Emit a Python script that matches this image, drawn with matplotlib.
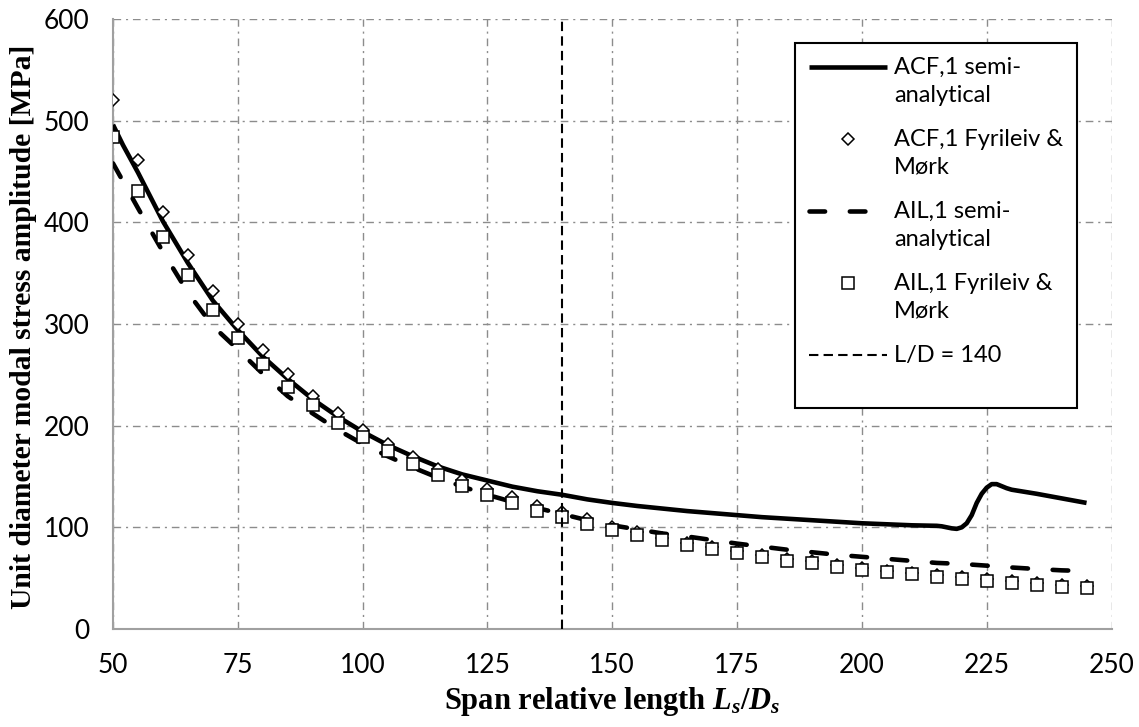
import matplotlib
matplotlib.use("Agg")
import matplotlib.pyplot as plt
from matplotlib.legend_handler import HandlerLine2D
from matplotlib.transforms import Affine2D

plt.rcParams['font.family'] = ['Lato', 'DejaVu Sans']
plt.rcParams['mathtext.fontset'] = 'custom'
plt.rcParams['mathtext.rm'] = 'Liberation Serif:bold'
plt.rcParams['mathtext.it'] = 'Liberation Serif:italic:bold'
plt.rcParams['mathtext.bf'] = 'Liberation Serif:bold'

# values
fm_x = [50, 55, 60, 65, 70, 75, 80, 85, 90, 95, 100, 105, 110, 115, 120, 125, 130, 135, 140, 145,
        150, 155, 160, 165, 170, 175, 180, 185, 190, 195, 200, 205, 210, 215, 220, 225, 230, 235, 240, 245]
acf_fm = [520, 461, 410, 368, 332, 300, 274, 251, 229, 212, 196, 182, 169, 157, 147, 138, 130, 121, 115, 108,
          100, 95, 90, 85, 80.5, 76.5, 73, 69, 66.5, 63, 60, 57.5, 55.5, 53, 51, 49, 47, 45, 43.5, 42]
ail_fm = [484, 431, 386, 348, 314, 286, 261, 238, 220, 203, 189, 175, 162, 151, 141, 132, 124, 116, 110, 103,
          97, 92.5, 87.5, 83, 78.5, 74.5, 71, 67, 64.5, 61, 58, 55.7, 53.7, 51.5, 49, 47, 45, 43, 41.6, 40]

acf_semi_x = [50, 52, 55, 60, 65, 70, 75, 80, 85, 90, 95, 100, 105, 110, 115, 120, 125, 130, 135, 140, 145,
              150, 155, 160, 165, 170, 175, 180, 185, 190, 195, 200, 205, 210, 215, 216, 217, 218, 219,
              220, 221, 222, 223, 224, 225, 226, 227, 228, 229, 230, 235, 240, 245]
acf_semi = [496, 476, 449, 401, 360, 323, 294, 268, 246, 226, 209, 194, 181, 170, 160, 152, 146, 140, 135.5, 132, 127.5,
            124, 121, 118.5, 116, 114, 112, 110, 108.5, 107, 105.5, 104, 103, 102, 101.5, 101, 100, 99, 98.5,
            100, 104, 112, 124, 133, 139, 142.5, 142.5, 140.5, 138.5, 137, 133, 128.5, 124]

ail_semi_x = fm_x
ail_semi = [458, 414, 371, 331, 298, 275, 251, 229, 212, 196, 182, 170, 159, 149, 140, 132, 125, 119, 113, 107,
            102, 98, 94, 91, 87.5, 84, 81, 78, 75.5, 73, 71, 69, 67, 65, 64, 62.3, 60.5, 59, 57.7, 57]

ld_limit = 140

labels = ["ACF,1 semi-\nanalytical", "ACF,1 Fyrileiv &\nMørk", "AIL,1 semi-\nanalytical",
          "AIL,1 Fyrileiv &\nMørk", "L/D = 140\n "]


class FirstLineHandler(HandlerLine2D):
    # put the legend key next to the first text line, like Excel
    def __init__(self, dy, **kw):
        super().__init__(**kw)
        self.dy = dy

    def create_artists(self, legend, orig_handle, xdescent, ydescent, width, height, fontsize, trans):
        trans = Affine2D().translate(0, self.dy) + trans
        return super().create_artists(legend, orig_handle, xdescent, ydescent, width, height, fontsize, trans)


fig = plt.figure(figsize=(11.39, 7.27), dpi=100)
ax = fig.add_axes([113 / 1139, 1 - 629 / 727, (1111.5 - 113) / 1139, 610 / 727])

l1, = ax.plot(acf_semi_x, acf_semi, color='black', lw=3.3, solid_capstyle='butt', zorder=3, label=labels[0])
l2, = ax.plot(fm_x, acf_fm, ls='none', marker='D', ms=6.5, mfc='white', mec='black', mew=1.1, zorder=4,
              label=labels[1])
l3, = ax.plot(ail_semi_x, ail_semi, color='black', lw=3.3, ls=(0, (3.4, 5.4)), dash_capstyle='round',
              zorder=5, label=labels[2])
l4, = ax.plot(fm_x, ail_fm, ls='none', marker='s', ms=8, mfc='white', mec='black', mew=1.1, zorder=6,
              label=labels[3])
l5 = ax.axvline(ld_limit, color='black', lw=1.5, ls=(0, (4.5, 2.5)), zorder=7, label=labels[4])

ax.set_xlim(50, 250)
ax.set_ylim(0, 600)
ax.set_xticks(range(50, 251, 25))
ax.set_yticks(range(0, 601, 100))
ax.grid(True, color='#8c8c8c', lw=1.0, ls=(0, (5.5, 3.5, 1.5, 3.5)))
ax.set_axisbelow(True)
for s in ['top', 'right']:
    ax.spines[s].set_visible(False)
for s in ['left', 'bottom']:
    ax.spines[s].set_color('#a0a0a0')
    ax.spines[s].set_linewidth(1.5)
ax.tick_params(length=0, labelsize=19)
ax.tick_params(axis='x', pad=17)
ax.tick_params(axis='y', pad=17)

ax.set_xlabel("Span relative length $L_s$/$D_s$", family='Liberation Serif', weight='bold', fontsize=22)
ax.xaxis.set_label_coords(0.5, -0.092)
ax.set_ylabel("Unit diameter modal stress amplitude [MPa]", family='Liberation Serif', weight='bold',
              fontsize=21.3)
ax.yaxis.set_label_coords(-0.076, 0.495)

dy = 10.8
hmap = {h: FirstLineHandler(dy) for h in [l1, l2, l3, l4, l5]}
leg = ax.legend(handles=[l1, l2, l3, l4, l5], loc='upper left', bbox_to_anchor=(795 / 1139, 1 - 43 / 727),
                bbox_transform=fig.transFigure, borderaxespad=0, fontsize=17, numpoints=1,
                handlelength=3.3, handletextpad=0.3, borderpad=0.6, labelspacing=1.0,
                fancybox=False, framealpha=1, edgecolor='black', handler_map=hmap)
leg.get_frame().set_linewidth(1.5)
for t in leg.get_texts():
    t.set_linespacing(1.38)

fig.savefig('out.png', dpi=100)
